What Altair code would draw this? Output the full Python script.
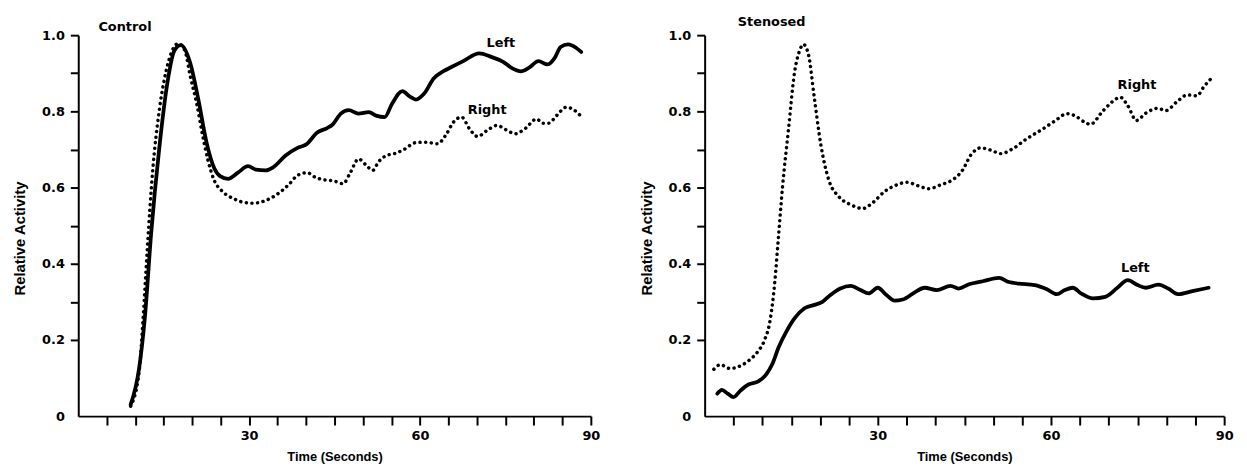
import altair as alt
import pandas as pd

# ---------------- data ----------------
# Control panel, Left (solid)
ctl_left_t = [9.2, 10.7, 11.7, 12.8, 14.2, 15.6, 16.9, 18.0, 19.7, 21.1, 22.5, 23.9, 24.9, 26.3, 28.1,
              29.8, 31.2, 32.9, 34.3, 36.4, 38.5, 40.2, 41.9, 43.7, 44.7, 46.1, 47.5, 49.2, 51.0, 52.4,
              53.8, 55.1, 56.9, 58.3, 59.3, 60.7, 62.4, 64.2, 65.6, 67.6, 70.4, 72.5, 74.6, 76.3, 77.7,
              79.1, 80.8, 82.4, 83.6, 84.7, 86.0, 87.4, 88.3]
ctl_left_v = [0.03, 0.127, 0.26, 0.48, 0.70, 0.87, 0.96, 0.974, 0.925, 0.83, 0.72, 0.65, 0.63, 0.623, 0.64,
              0.656, 0.647, 0.645, 0.654, 0.684, 0.704, 0.715, 0.744, 0.756, 0.766, 0.794, 0.803, 0.794, 0.798, 0.788,
              0.785, 0.82, 0.853, 0.838, 0.831, 0.846, 0.886, 0.906, 0.917, 0.932, 0.952, 0.943, 0.93, 0.912, 0.905,
              0.914, 0.932, 0.923, 0.939, 0.969, 0.976, 0.967, 0.956]

# Control panel, Right (dotted)
ctl_right_t = [9.2, 10.7, 11.4, 12.1, 13.1, 14.2, 15.2, 16.25, 17.5, 18.7, 19.7, 20.8, 21.8, 22.8, 23.9,
               25.3, 27.4, 29.1, 30.8, 32.9, 35.0, 37.1, 38.5, 40.2, 41.6, 43.3, 44.7, 46.5, 47.8, 49.2,
               50.6, 51.7, 52.7, 54.1, 55.5, 57.2, 59.3, 61.0, 63.1, 64.5, 65.9, 67.3, 68.7, 70.1, 71.8,
               73.5, 75.3, 76.7, 78.4, 80.5, 81.5, 82.6, 84.0, 85.7, 87.1, 88.3]
ctl_right_v = [0.026, 0.118, 0.26, 0.434, 0.65, 0.80, 0.89, 0.95, 0.978, 0.96, 0.89, 0.82, 0.74, 0.67, 0.618,
               0.59, 0.57, 0.561, 0.559, 0.566, 0.583, 0.61, 0.632, 0.639, 0.627, 0.62, 0.618, 0.61, 0.64, 0.675,
               0.658, 0.645, 0.667, 0.684, 0.689, 0.70, 0.718, 0.719, 0.715, 0.737, 0.772, 0.785, 0.754, 0.734, 0.75,
               0.763, 0.75, 0.741, 0.754, 0.78, 0.769, 0.769, 0.789, 0.811, 0.803, 0.787]

# Stenosed panel, Right (dotted)
ste_right_t = [1.6, 2.7, 4.4, 6.2, 7.9, 9.3, 10.3, 11.4, 12.1, 12.8, 13.5, 14.5, 15.6, 16.4, 17.1,
               18.0, 19.0, 20.1, 21.5, 23.2, 25.3, 27.4, 29.1, 31.2, 33.3, 35.0, 37.1, 38.8, 40.9, 43.3,
               44.7, 46.1, 47.8, 49.6, 51.3, 53.4, 55.8, 58.6, 60.7, 62.8, 64.2, 65.9, 66.8, 69.0, 70.6,
               72.0, 73.3, 74.8, 76.4, 78.5, 79.9, 81.8, 83.6, 85.3, 86.5, 88.2]
ste_right_v = [0.123, 0.135, 0.125, 0.132, 0.149, 0.171, 0.197, 0.257, 0.344, 0.473, 0.603, 0.75, 0.905, 0.957, 0.976,
               0.948, 0.836, 0.715, 0.62, 0.577, 0.555, 0.545, 0.56, 0.59, 0.607, 0.614, 0.604, 0.597, 0.607, 0.624,
               0.646, 0.685, 0.704, 0.698, 0.689, 0.702, 0.728, 0.754, 0.775, 0.794, 0.788, 0.771, 0.766, 0.801, 0.825,
               0.837, 0.815, 0.776, 0.795, 0.808, 0.802, 0.825, 0.843, 0.841, 0.865, 0.893]

# Stenosed panel, Left (solid)
ste_left_t = [2.2, 3.0, 4.0, 5.0, 6.2, 7.6, 9.3, 10.7, 11.7, 12.8, 14.2, 15.6, 17.3, 19.0, 20.4,
              21.8, 23.5, 25.3, 27.0, 28.4, 30.0, 31.5, 32.9, 34.3, 36.4, 38.1, 40.2, 42.6, 44.0, 45.8,
              48.2, 51.0, 52.7, 54.4, 57.2, 59.3, 61.0, 62.4, 63.8, 65.2, 67.3, 69.4, 71.5, 73.3, 75.0,
              76.4, 78.6, 80.3, 82.0, 84.5, 87.3]
ste_left_v = [0.059, 0.069, 0.059, 0.05, 0.067, 0.083, 0.091, 0.11, 0.136, 0.18, 0.223, 0.257, 0.283, 0.292, 0.30,
              0.318, 0.335, 0.342, 0.331, 0.322, 0.337, 0.318, 0.303, 0.306, 0.325, 0.337, 0.331, 0.342, 0.335, 0.346,
              0.354, 0.363, 0.352, 0.348, 0.344, 0.333, 0.32, 0.331, 0.337, 0.322, 0.309, 0.313, 0.337, 0.357, 0.344,
              0.337, 0.345, 0.335, 0.32, 0.328, 0.337]

# Text annotations
ctl_labels = ["Control", "Left", "Right"]
ctl_label_t = [8.2, 74.2, 71.8]
ctl_label_v = [1.02, 0.98, 0.804]
ste_labels = ["Stenosed", "Right", "Left"]
ste_label_t = [11.6, 74.9, 74.6]
ste_label_v = [1.035, 0.869, 0.39]

# Axis ticks
x_ticks = [5, 10, 15, 20, 25, 30, 35, 40, 45, 50, 55, 60, 65, 70, 75, 80, 85, 90]
y_ticks = [0, 0.2, 0.3, 0.4, 0.5, 0.6, 0.7, 0.8, 0.9, 1.0]

# ---------------- chart ----------------
X_AXIS = alt.Axis(
    values=x_ticks,
    labelExpr="datum.value % 30 == 0 ? format(datum.value, 'd') : ''",
    title="Time (Seconds)",
    titleFont="Liberation Sans", titleFontSize=13, titleFontWeight="bold",
    titleY=41, titleBaseline="middle",
    tickSize=9, tickWidth=2, domainWidth=2, labelPadding=5,
    labelFlush=False, labelOverlap=False, grid=False,
)
Y_AXIS = alt.Axis(
    values=y_ticks,
    labelExpr="datum.value == 0 ? '0' : (round(datum.value * 10) % 2 == 0 ? format(datum.value, '.1f') : '')",
    title="Relative Activity",
    titleFont="Liberation Sans", titleFontSize=15, titleFontWeight="bold",
    titleX=-59, titleY=205, titleBaseline="middle",
    tickSize=8, tickWidth=2, domainWidth=2, labelPadding=6,
    tickOpacity={"condition": {"test": "datum.value == 0", "value": 0}, "value": 1},
    labelOverlap=False, grid=False,
)

X = alt.X("t:Q", scale=alt.Scale(domain=[0, 90], nice=False, zero=False), axis=X_AXIS)
Y = alt.Y("v:Q", scale=alt.Scale(domain=[0, 1.0], nice=False), axis=Y_AXIS)


def solid(t, v):
    df = pd.DataFrame({"t": t, "v": v})
    return alt.Chart(df).mark_line(color="black", strokeWidth=3.8, interpolate="monotone",
                                   strokeCap="round").encode(x=X, y=Y)


def dotted(t, v):
    df = pd.DataFrame({"t": t, "v": v})
    return alt.Chart(df).mark_line(color="black", strokeWidth=3.5, interpolate="monotone",
                                   strokeCap="round", strokeDash=[0.1, 5.6]).encode(x=X, y=Y)


def labels(text, t, v):
    df = pd.DataFrame({"label": text, "t": t, "v": v})
    return alt.Chart(df).mark_text(font="DejaVu Sans", fontWeight="bold", fontSize=13,
                                   color="black").encode(x=X, y=Y, text="label:N")


left = alt.layer(
    solid(ctl_left_t, ctl_left_v),
    dotted(ctl_right_t, ctl_right_v),
    labels(ctl_labels, ctl_label_t, ctl_label_v),
).properties(width=518, height=385)

right = alt.layer(
    dotted(ste_right_t, ste_right_v),
    solid(ste_left_t, ste_left_v),
    labels(ste_labels, ste_label_t, ste_label_v),
).properties(width=525, height=385)

chart = alt.hconcat(left, right, spacing=39).configure_view(strokeWidth=0).configure_axis(
    labelFont="DejaVu Sans", labelFontWeight="bold", labelFontSize=13, labelColor="black",
    titleColor="black", domainColor="black", tickColor="black",
)

chart.save("out.html", embed_options={"renderer": "svg", "actions": False})
